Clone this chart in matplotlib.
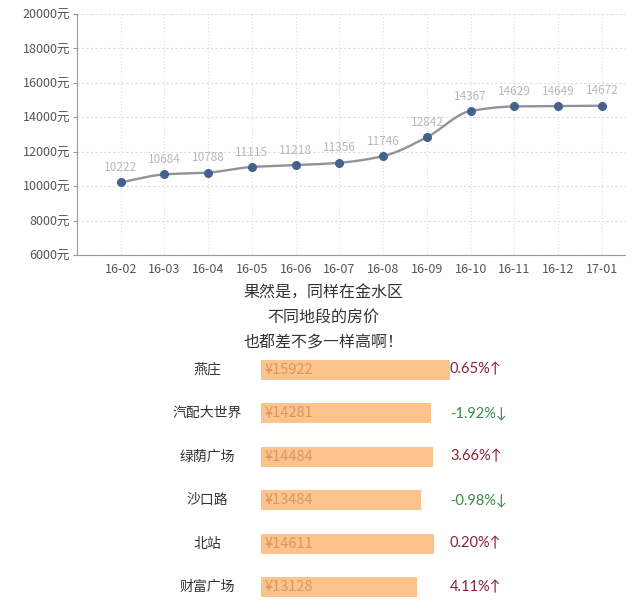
import matplotlib
matplotlib.use("Agg")
import matplotlib.pyplot as plt
import matplotlib.transforms as mtransforms
import numpy as np

plt.rcParams['font.family'] = ['Noto Sans CJK SC', 'DejaVu Sans']

# monthly average price
months = ['16-02', '16-03', '16-04', '16-05', '16-06', '16-07',
          '16-08', '16-09', '16-10', '16-11', '16-12', '17-01']
prices = [10222, 10684, 10788, 11115, 11218, 11356,
          11746, 12842, 14367, 14629, 14649, 14672]

# districts
areas = ['燕庄', '汽配大世界', '绿荫广场', '沙口路', '北站', '财富广场']
area_prices = [15922, 14281, 14484, 13484, 14611, 13128]
changes = [0.65, -1.92, 3.66, -0.98, 0.20, 4.11]

lines = ['果然是，同样在金水区', '不同地段的房价', '也都差不多一样高啊！']


def smooth(x, y, n=20):
    # monotone cubic (Fritsch-Carlson) path for drawing the curve
    x = np.asarray(x, float)
    y = np.asarray(y, float)
    h = np.diff(x)
    d = np.diff(y) / h
    m = np.zeros_like(y)
    m[0], m[-1] = d[0], d[-1]
    for i in range(1, len(y) - 1):
        if d[i - 1] * d[i] > 0:
            m[i] = 2 / (1 / d[i - 1] + 1 / d[i])
    xs, ys = [], []
    for i in range(len(h)):
        t = np.linspace(0, 1, n, endpoint=False)
        h00 = 2 * t**3 - 3 * t**2 + 1
        h10 = t**3 - 2 * t**2 + t
        h01 = -2 * t**3 + 3 * t**2
        h11 = t**3 - t**2
        xs.append(x[i] + t * h[i])
        ys.append(h00 * y[i] + h10 * h[i] * m[i] + h01 * y[i + 1] + h11 * h[i] * m[i + 1])
    xs.append([x[-1]])
    ys.append([y[-1]])
    return np.concatenate(xs), np.concatenate(ys)


fig = plt.figure(figsize=(6.4, 6.09), dpi=100)

# line chart
ax = fig.add_axes([77 / 640, 1 - 255 / 609, 548 / 640, 241 / 609])
xi = np.arange(len(months))
sx, sy = smooth(xi, prices)
ax.plot(sx, sy, color='#8e949c', lw=1.7, zorder=3)
ax.plot(xi, prices, 'o', color='#44628c', ms=5.5, zorder=4)
for x, p in zip(xi, prices):
    ax.annotate(str(p), (x, p), xytext=(0, 6), textcoords='offset points',
                ha='center', va='bottom', fontsize=8.5, color='#b8b8b8')

ax.set_xlim(-1, 11.53)
ax.set_ylim(6000, 20000)
ax.set_yticks(range(6000, 20001, 2000))
ax.set_yticklabels([f'{v}元' for v in range(6000, 20001, 2000)])
ax.set_xticks(xi)
ax.set_xticklabels(months)
ax.tick_params(axis='both', labelsize=9, colors='#555555', length=0, pad=6)
ax.tick_params(axis='y', length=3, color='#999999', pad=2)
ax.grid(axis='y', ls=(0, (2, 2)), color='#dcdcdc', lw=0.8)
ax.grid(axis='x', ls=(0, (1, 2)), color='#dcdcdc', lw=0.8)
for s in ['top', 'right']:
    ax.spines[s].set_visible(False)
for s in ['left', 'bottom']:
    ax.spines[s].set_color('#9a9a9a')

# middle text
for i, t in enumerate(lines):
    fig.text(323 / 640, 1 - (293 + 25 * i) / 609, t, ha='center', va='center',
             fontsize=11.5, color='#333333')

# bars
bx = fig.add_axes([261 / 640, 0, 379 / 640, 261 / 609])
yi = np.arange(len(areas))
bx.barh(yi, area_prices, height=0.46, color='#fcc38c')
bx.set_xlim(0, 379 / (189 / 15922))
bx.set_ylim(5.5, -0.5)
bx.axis('off')
lab_tr = mtransforms.blended_transform_factory(fig.transFigure, bx.transData)
for y, a, p, c in zip(yi, areas, area_prices, changes):
    fig.text(207 / 640, y, a, transform=lab_tr, ha='center', va='center',
             fontsize=10, color='#333333')
    bx.text(300, y, f'¥{p}', ha='left', va='center', fontsize=10.5, color='#dc9660')
    col = '#8b2035' if c >= 0 else '#3a8a4a'
    arrow = '↑' if c >= 0 else '↓'
    fig.text(450 / 640, y, f'{c:.2f}%{arrow}', transform=lab_tr, ha='left',
             va='center', fontsize=10.5, color=col, family=['Lato', 'DejaVu Sans'])

fig.savefig('out.png', dpi=100)
